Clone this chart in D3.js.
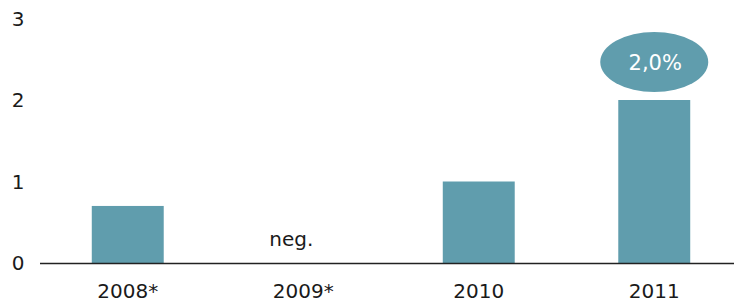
<!DOCTYPE html>
<html><head><meta charset="utf-8">
<script src="https://cdn.jsdelivr.net/npm/d3@7"></script>
<style>body{margin:0;background:#fff}svg{display:block}</style>
</head><body>
<svg id="c" width="734" height="302"></svg>
<script>
const categories = ["2008*", "2009*", "2010", "2011"];
const values = [0.7, 0, 1.0, 2.0];
const yTicks = [0, 1, 2, 3];
const barLabels = ["", "neg.", "", ""];
const bubbleLabel = {category: "2011", text: "2,0%"};

const svg = d3.select("#c");
const font = "Verdana, 'DejaVu Sans', sans-serif";
const color = "#609dad";
const x = d3.scaleBand().domain(categories).range([40, 742]).paddingInner(0.59).paddingOuter(0.295);
const y = d3.scaleLinear().domain([0, 3]).range([263, 18.5]);

// y tick labels
svg.append("g").selectAll("text").data(yTicks).join("text")
  .attr("x", 18).attr("y", d => y(d)).attr("dy", "0.36em")
  .attr("text-anchor", "middle").attr("font-family", font).attr("font-size", 20).attr("fill", "#1a1a1a")
  .text(d => d);

// bars
svg.append("g").selectAll("rect").data(categories.map((c, i) => ({c, v: values[i]})).filter(d => d.v > 0)).join("rect")
  .attr("x", d => x(d.c)).attr("width", x.bandwidth())
  .attr("y", d => y(d.v)).attr("height", d => y(0) - y(d.v))
  .attr("fill", color);

// baseline
svg.append("line").attr("x1", 40).attr("x2", 734).attr("y1", y(0) + 0.5).attr("y2", y(0) + 0.5)
  .attr("stroke", "#222").attr("stroke-width", 1.3);

// x labels
svg.append("g").selectAll("text").data(categories).join("text")
  .attr("x", d => x(d) + x.bandwidth() / 2).attr("y", 298)
  .attr("text-anchor", "middle").attr("font-family", font).attr("font-size", 20).attr("fill", "#1a1a1a")
  .text(d => d);

// neg. labels
svg.append("g").selectAll("text").data(categories.map((c, i) => ({c, t: barLabels[i]})).filter(d => d.t)).join("text")
  .attr("x", d => x(d.c) + x.bandwidth() / 2 - 12).attr("y", 246)
  .attr("text-anchor", "middle").attr("font-family", font).attr("font-size", 20).attr("fill", "#1a1a1a")
  .text(d => d.t);

// bubble
const bx = x(bubbleLabel.category) + x.bandwidth() / 2;
svg.append("ellipse").attr("cx", bx).attr("cy", 62).attr("rx", 54).attr("ry", 30).attr("fill", color);
svg.append("text").attr("x", bx + 1).attr("y", 62).attr("dy", "0.36em").attr("text-anchor", "middle")
  .attr("font-family", font).attr("font-size", 21).attr("fill", "#fff").text(bubbleLabel.text);
</script>
</body></html>
